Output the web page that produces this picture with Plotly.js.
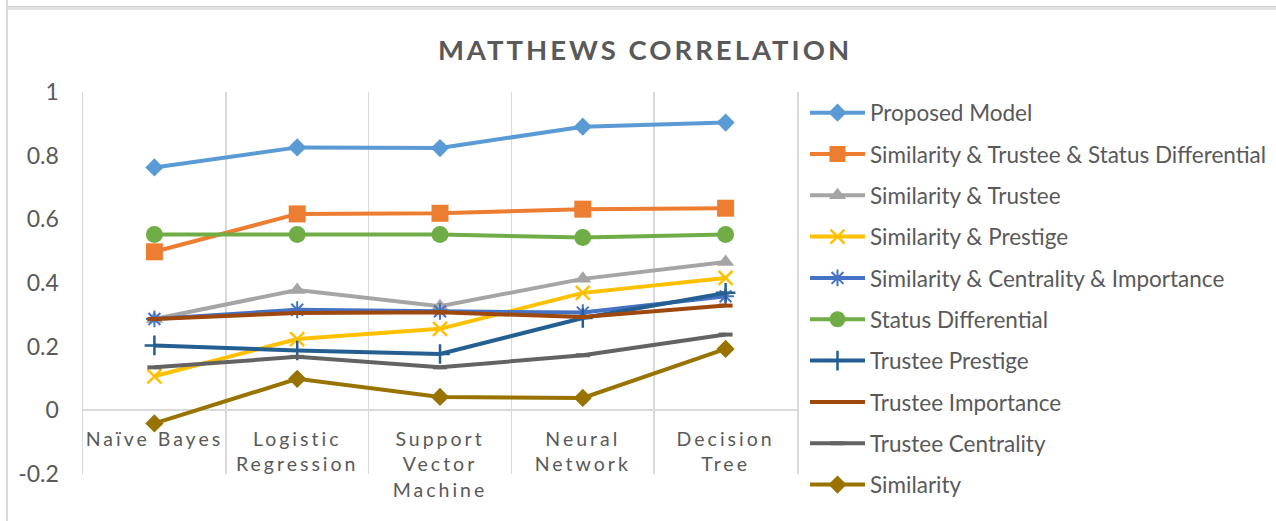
<!DOCTYPE html>
<html>
<head>
<meta charset="utf-8">
<script src="https://cdn.plot.ly/plotly-3.0.1.min.js"></script>
<style>
  html, body { margin: 0; padding: 0; background: #fff; }
  #wrap { position: relative; width: 1276px; height: 521px; overflow: hidden; }
  #chart { position: absolute; left: 0; top: 0; width: 1276px; height: 521px; }
  #frameTop { position: absolute; left: 7px; top: 6px; width: 1269px; height: 4px; background: #e3e3e3; border-top: 1px solid #d2d2d2; box-sizing: border-box; }
  #frameLeft { position: absolute; left: 6px; top: 0; width: 2px; height: 521px; background: #d9d9d9; }
  .xtick text { letter-spacing: 3px; }
  .gtitle { letter-spacing: 3px; }
</style>
</head>
<body>
<div id="wrap">
  <div id="chart"></div>
  <div id="frameTop"></div>
  <div id="frameLeft"></div>
</div>
<script>
// ---- data ----
const categories = ["Naïve Bayes", "Logistic<br>Regression", "Support<br>Vector<br>Machine", "Neural<br>Network", "Decision<br>Tree"];

const seriesNames = [
  "Proposed Model",
  "Similarity & Trustee & Status Differential",
  "Similarity & Trustee",
  "Similarity & Prestige",
  "Similarity & Centrality & Importance",
  "Status Differential",
  "Trustee Prestige",
  "Trustee Importance",
  "Trustee Centrality",
  "Similarity"
];

const proposedModel = [0.763, 0.826, 0.824, 0.891, 0.904];
const simTrusteeStatus = [0.498, 0.617, 0.619, 0.632, 0.635];
const simTrustee = [0.287, 0.378, 0.327, 0.413, 0.466];
const simPrestige = [0.107, 0.224, 0.256, 0.369, 0.416];
const simCentralityImportance = [0.287, 0.316, 0.311, 0.307, 0.358];
const statusDifferential = [0.552, 0.552, 0.552, 0.543, 0.552];
const trusteePrestige = [0.204, 0.188, 0.177, 0.290, 0.369];
const trusteeImportance = [0.287, 0.306, 0.308, 0.293, 0.329];
const trusteeCentrality = [0.135, 0.168, 0.135, 0.173, 0.238];
const similarity = [-0.041, 0.099, 0.042, 0.039, 0.193];

const yTickVals = [-0.2, 0, 0.2, 0.4, 0.6, 0.8, 1];
const yTickText = ["-0.2", "0", "0.2", "0.4", "0.6", "0.8", "1"];

const seriesValues = [proposedModel, simTrusteeStatus, simTrustee, simPrestige,
  simCentralityImportance, statusDifferential, trusteePrestige, trusteeImportance,
  trusteeCentrality, similarity];

// ---- styles ----
const styles = [
  { color: "#5B9BD5", symbol: "diamond", size: 14 },
  { color: "#ED7D31", symbol: "square", size: 17 },
  { color: "#A5A5A5", symbol: "triangle-up", size: 15 },
  { color: "#FFC000", symbol: "x-thin-open", size: 14, lw: 2.5 },
  { color: "#4472C4", symbol: "asterisk-open", size: 14, lw: 2 },
  { color: "#70AD47", symbol: "circle", size: 17 },
  { color: "#255E91", symbol: "cross-thin-open", size: 14, lw: 2.5 },
  { color: "#9E480E", symbol: "line-ew-open", size: 10, lw: 4 },
  { color: "#636363", symbol: "line-ew-open", size: 10, lw: 4 },
  { color: "#997300", symbol: "diamond", size: 14 }
];

const traces = seriesNames.map((name, i) => {
  const s = styles[i];
  const marker = { symbol: s.symbol, size: s.size, color: s.color };
  if (s.lw) marker.line = { color: s.color, width: s.lw };
  return {
    type: "scatter",
    mode: "lines+markers",
    name: name,
    legend: i < 5 ? "legend" : "legend2",
    legendgroup: "g" + i,
    x: categories,
    y: seriesValues[i],
    line: { color: s.color, width: 4 },
    marker: marker,
    cliponaxis: false
  };
});

const fontFam = "Lato, 'Open Sans', sans-serif";
const legendFontSize = 22.5;
const legendStep = 41.33;
const legendTop = 91.5;

function legendCfg(top) {
  return {
    xref: "container", x: 805 / 1276, xanchor: "left",
    yref: "container", y: 1 - top / 521, yanchor: "top",
    font: { family: fontFam, size: legendFontSize, color: "#595959" },
    tracegroupgap: legendStep - (legendFontSize * 1.3 + 3),
    itemwidth: 55,
    bgcolor: "rgba(0,0,0,0)",
    borderwidth: 0
  };
}

const layout = {
  width: 1276,
  height: 521,
  paper_bgcolor: "#ffffff",
  plot_bgcolor: "#ffffff",
  margin: { l: 83, r: 479, t: 92, b: 47 },
  font: { family: fontFam, color: "#595959", size: 20 },
  title: {
    text: "<b>MATTHEWS CORRELATION</b>",
    font: { family: fontFam, size: 27.5, color: "#595959" },
    xref: "container", x: 0.5055, xanchor: "center",
    yref: "container", y: 0.904, yanchor: "middle"
  },
  xaxis: {
    type: "category",
    range: [-0.5, 4.5],
    tickson: "boundaries",
    showgrid: true,
    gridcolor: "#d9d9d9",
    gridwidth: 1.5,
    ticks: "",
    showline: false,
    zeroline: false,
    anchor: "free",
    position: 0.2 / 1.2,
    tickfont: { family: fontFam, size: 19.5, color: "#595959" },
    ticklabelstandoff: 15,
    fixedrange: true
  },
  yaxis: {
    range: [-0.2, 1],
    tickvals: yTickVals,
    ticktext: yTickText,
    showgrid: false,
    zeroline: true,
    zerolinecolor: "#d9d9d9",
    zerolinewidth: 2,
    showline: true,
    mirror: true,
    linecolor: "#d9d9d9",
    linewidth: 1.5,
    ticks: "",
    tickfont: { family: fontFam, size: 23, color: "#595959" },
    ticklabelstandoff: 18,
    fixedrange: true
  },
  showlegend: true,
  legend: legendCfg(legendTop),
  legend2: legendCfg(legendTop + 5 * legendStep)
};

Plotly.newPlot("chart", traces, layout, { displayModeBar: false, staticPlot: true });
</script>
</body>
</html>
